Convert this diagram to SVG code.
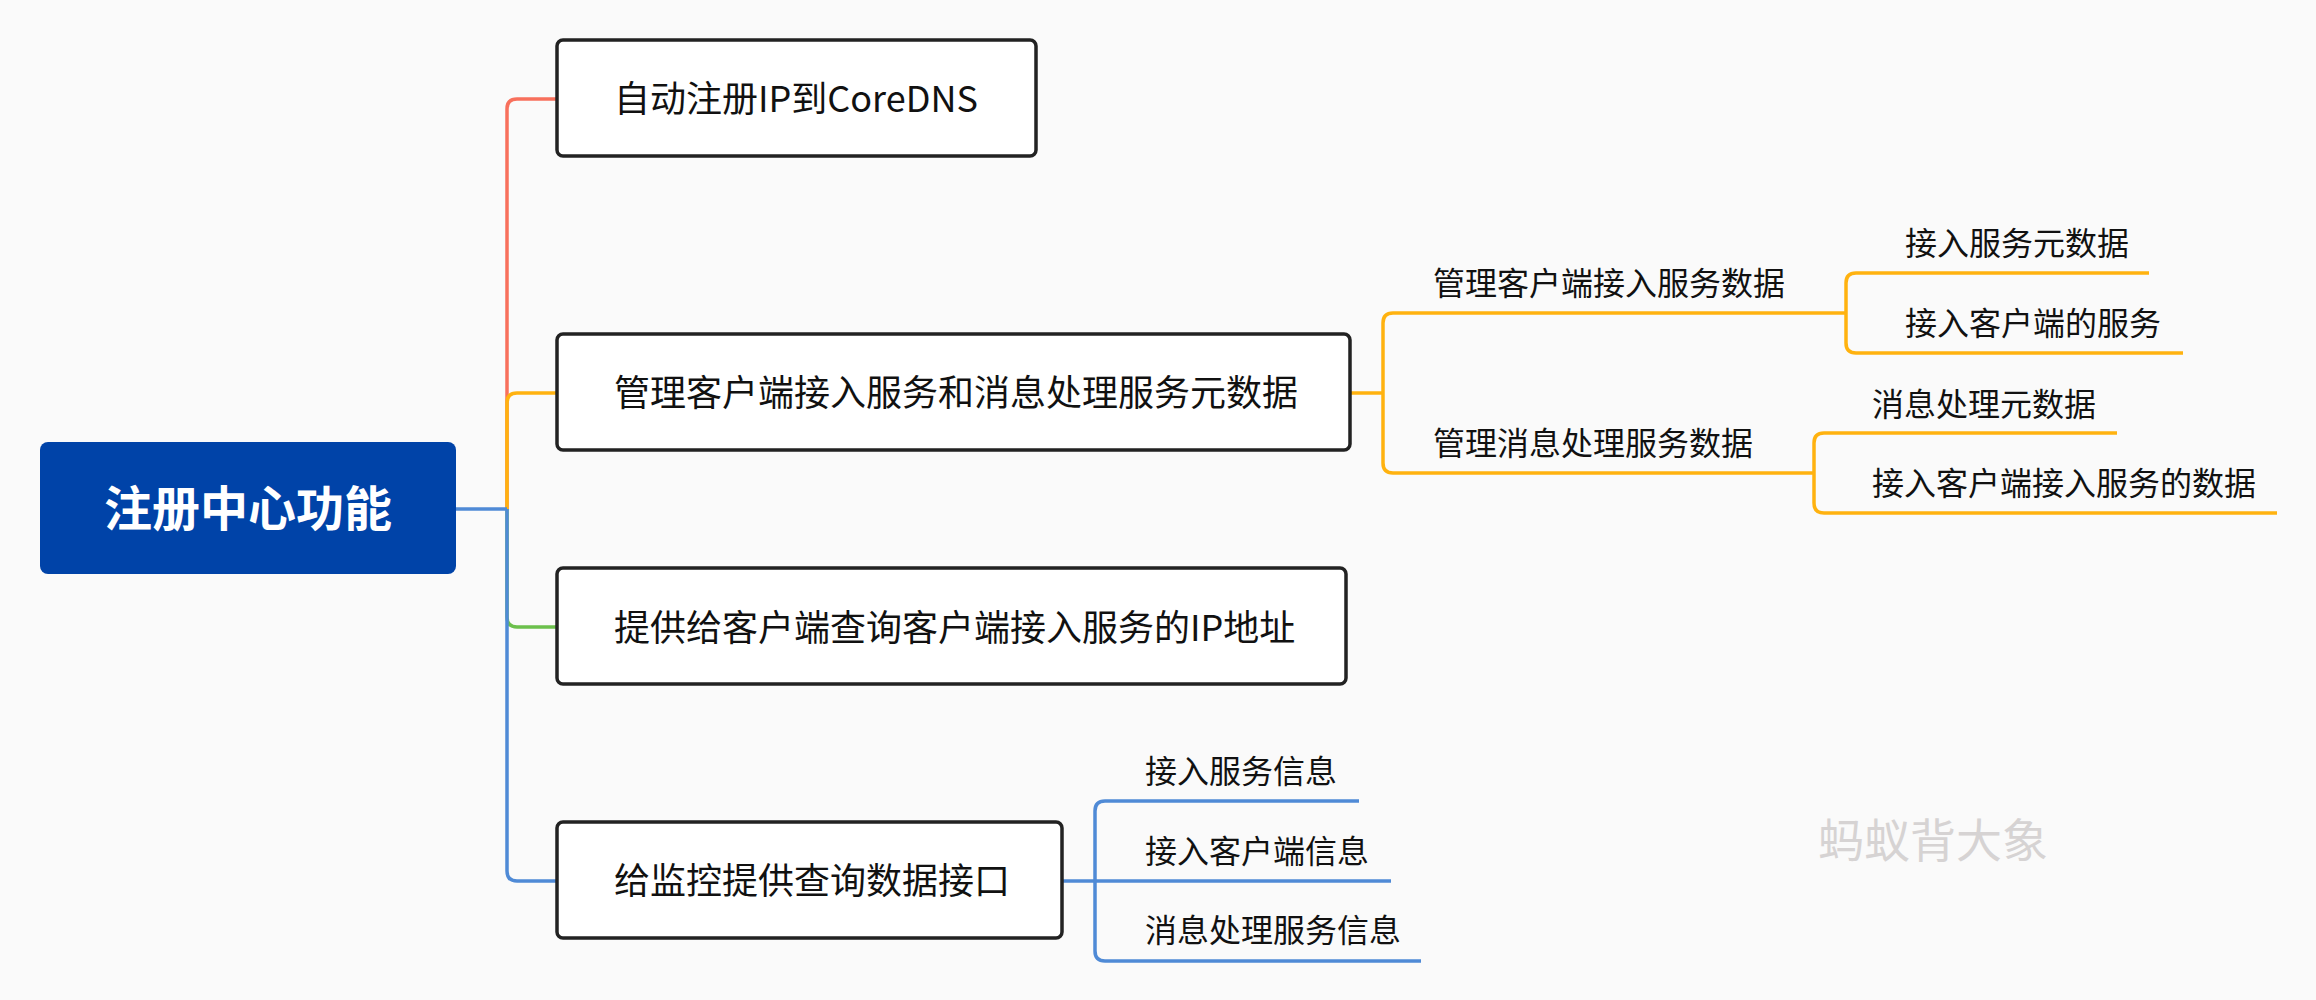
<svg xmlns="http://www.w3.org/2000/svg" width="2316" height="1000" viewBox="0 0 2316 1000">
<style>
.bg{fill:#fafafa}
.box{fill:#ffffff;stroke:#222222;stroke-width:3.5}
.root{fill:#0043a8}
.t{font-family:"Noto Sans CJK SC","Noto Sans",sans-serif;fill:#111111}
.t36{font-size:36px}
.t32{font-size:32px}
.rt{font-family:"Noto Sans CJK SC","Noto Sans",sans-serif;font-size:48px;font-weight:bold;fill:#ffffff}
.wm{font-family:"Noto Sans CJK SC","Noto Sans",sans-serif;font-size:46px;fill:#d6d3d3}
.c{fill:none;stroke-width:3.5;stroke-linecap:butt;stroke-linejoin:round}
.red{stroke:#f8705c}
.org{stroke:#ffb20f}
.grn{stroke:#6cc04c}
.blu{stroke:#4f8ad6}
</style>
<rect class="bg" x="0" y="0" width="2316" height="1000"/>
<g id="connectors">
<path class="c red" d="M507,509 V109 Q507,99 517,99 H557"/>
<path class="c org" d="M507,509 V403 Q507,393 517,393 H557"/>
<path class="c grn" d="M507,509 V617 Q507,627 517,627 H557"/>
<path class="c blu" d="M507,509 V871 Q507,881 517,881 H557"/>
<path class="c blu" d="M456,509 H507"/>
<path class="c org" d="M1350,393 H1383"/>
<path class="c org" d="M1383,393 V323 Q1383,313 1393,313 H1846"/>
<path class="c org" d="M1383,393 V463 Q1383,473 1393,473 H1814"/>
<path class="c org" d="M1846,313 V283 Q1846,273 1856,273 H2149"/>
<path class="c org" d="M1846,313 V343 Q1846,353 1856,353 H2183"/>
<path class="c org" d="M1814,473 V443 Q1814,433 1824,433 H2117"/>
<path class="c org" d="M1814,473 V503 Q1814,513 1824,513 H2277"/>
<path class="c blu" d="M1062,881 H1095"/>
<path class="c blu" d="M1095,881 V811 Q1095,801 1105,801 H1359"/>
<path class="c blu" d="M1095,881 H1391"/>
<path class="c blu" d="M1095,881 V951 Q1095,961 1105,961 H1421"/>
</g>
<g id="root">
<rect class="root" x="40" y="442" width="416" height="132" rx="8"/>
<text class="rt" x="248" y="526" text-anchor="middle">注册中心功能</text>
</g>
<g id="n1">
<rect class="box" x="557" y="40" width="479" height="116" rx="6"/>
<text class="t t36" x="614" y="112">自动注册IP到CoreDNS</text>
</g>
<g id="n2">
<rect class="box" x="557" y="334" width="793" height="116" rx="6"/>
<text class="t t36" x="614" y="406">管理客户端接入服务和消息处理服务元数据</text>
</g>
<g id="n3">
<rect class="box" x="557" y="568" width="789" height="116" rx="6"/>
<text class="t t36" x="614" y="641">提供给客户端查询客户端接入服务的IP地址</text>
</g>
<g id="n4">
<rect class="box" x="557" y="822" width="505" height="116" rx="6"/>
<text class="t t36" x="614" y="894">给监控提供查询数据接口</text>
</g>
<g id="n2a"><text class="t t32" x="1433" y="295">管理客户端接入服务数据</text></g>
<g id="n2a1"><text class="t t32" x="1905" y="255">接入服务元数据</text></g>
<g id="n2a2"><text class="t t32" x="1905" y="335">接入客户端的服务</text></g>
<g id="n2b"><text class="t t32" x="1433" y="455">管理消息处理服务数据</text></g>
<g id="n2b1"><text class="t t32" x="1872" y="416">消息处理元数据</text></g>
<g id="n2b2"><text class="t t32" x="1872" y="495">接入客户端接入服务的数据</text></g>
<g id="n4a"><text class="t t32" x="1145" y="783">接入服务信息</text></g>
<g id="n4b"><text class="t t32" x="1145" y="863">接入客户端信息</text></g>
<g id="n4c"><text class="t t32" x="1145" y="942">消息处理服务信息</text></g>
<g id="watermark"><text class="wm" x="1818" y="857">蚂蚁背大象</text></g>
</svg>
